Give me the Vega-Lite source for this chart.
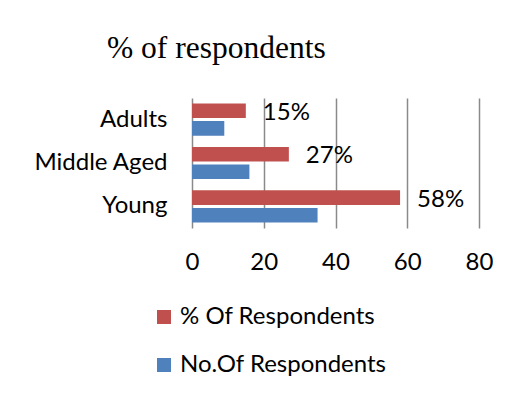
{
  "$schema": "https://vega.github.io/schema/vega-lite/v6.json",
  "autosize": {"type": "none"},
  "padding": {"left": 192, "top": 98, "right": 30, "bottom": 166},
  "width": 287,
  "height": 130,
  "background": "white",
  "title": {
    "text": "% of respondents",
    "font": "Liberation Serif",
    "fontSize": 31.5,
    "fontWeight": "normal",
    "color": "black",
    "anchor": "start",
    "frame": "group",
    "baseline": "alphabetic",
    "dx": -85,
    "offset": 9
  },
  "data": {
    "values": [
      {"group": "Adults", "series": "% Of Respondents", "value": 15},
      {"group": "Adults", "series": "No.Of Respondents", "value": 9},
      {"group": "Middle Aged", "series": "% Of Respondents", "value": 27},
      {"group": "Middle Aged", "series": "No.Of Respondents", "value": 16},
      {"group": "Young", "series": "% Of Respondents", "value": 58},
      {"group": "Young", "series": "No.Of Respondents", "value": 35}
    ]
  },
  "encoding": {
    "y": {
      "field": "group",
      "type": "nominal",
      "sort": ["Adults", "Middle Aged", "Young"],
      "scale": {"paddingInner": 0.26, "paddingOuter": 0.127},
      "axis": {
        "title": null,
        "domain": false,
        "ticks": false,
        "labelPadding": 25,
        "labelFont": "Lato",
        "labelFontSize": 24,
        "labelColor": "black"
      }
    },
    "yOffset": {
      "field": "series",
      "type": "nominal",
      "sort": ["% Of Respondents", "No.Of Respondents"],
      "scale": {"paddingInner": 0.17}
    },
    "x": {
      "field": "value",
      "type": "quantitative",
      "scale": {"domain": [0, 80], "nice": false},
      "axis": {
        "title": null,
        "values": [0, 20, 40, 60, 80],
        "domain": false,
        "ticks": false,
        "grid": true,
        "gridColor": "#8a8a8a",
        "gridWidth": 1.5,
        "labelFlush": false,
        "labelPadding": 22,
        "labelFont": "Lato",
        "labelFontSize": 24,
        "labelColor": "black"
      }
    }
  },
  "layer": [
    {
      "mark": {"type": "bar"},
      "encoding": {
        "color": {
          "field": "series",
          "type": "nominal",
          "sort": ["% Of Respondents", "No.Of Respondents"],
          "scale": {
            "domain": ["% Of Respondents", "No.Of Respondents"],
            "range": ["#C0504D", "#4F81BD"]
          },
          "legend": {
            "title": null,
            "orient": "none",
            "legendX": -40,
            "legendY": 207,
            "direction": "vertical",
            "symbolType": "square",
            "symbolSize": 196,
            "symbolStrokeWidth": 0,
            "labelFont": "Lato",
            "labelFontSize": 24,
            "labelColor": "black",
            "labelLimit": 400,
            "labelOffset": 4,
            "rowPadding": 24
          }
        }
      }
    },
    {
      "transform": [
        {"filter": "datum.series === '% Of Respondents'"},
        {"calculate": "datum.value + '%'", "as": "label"}
      ],
      "mark": {
        "type": "text",
        "align": "left",
        "baseline": "middle",
        "dx": 17,
        "dy": 2,
        "font": "Lato",
        "fontSize": 24,
        "color": "black"
      },
      "encoding": {"text": {"field": "label"}}
    }
  ],
  "config": {"view": {"stroke": null}}
}
